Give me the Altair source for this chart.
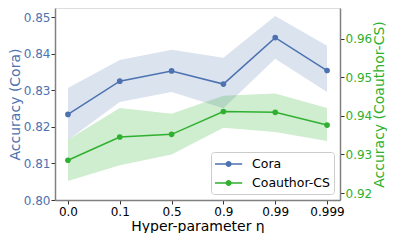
import altair as alt
import pandas as pd

eta = ["0.0", "0.1", "0.5", "0.9", "0.99", "0.999"]
cora_mean = [0.8234, 0.8325, 0.8353, 0.8317, 0.8444, 0.8354]
cora_lo = [0.8164, 0.8268, 0.8295, 0.8251, 0.8386, 0.8295]
cora_hi = [0.8306, 0.8383, 0.8411, 0.8389, 0.8503, 0.8422]
cs_mean = [0.9285, 0.9345, 0.9352, 0.9411, 0.9409, 0.9376]
cs_lo = [0.9231, 0.9272, 0.9300, 0.9369, 0.9358, 0.9335]
cs_hi = [0.9338, 0.9420, 0.9405, 0.9452, 0.9458, 0.9420]
series = ["Cora", "Coauthor-CS"]

BLUE = "#4c72b0"
GREEN = "#30b030"

rows = []
for i, e in enumerate(eta):
    rows.append({"eta": e, "series": "Cora", "mean": cora_mean[i], "lo": cora_lo[i], "hi": cora_hi[i]})
    rows.append({"eta": e, "series": "Coauthor-CS", "mean": cs_mean[i], "lo": cs_lo[i], "hi": cs_hi[i]})
df = pd.DataFrame(rows)

xenc = alt.X("eta:O", sort=eta,
             scale=alt.Scale(type="point", padding=0.25),
             axis=alt.Axis(title="Hyper-parameter η", labelAngle=0, labelColor="black",
                           titleColor="black", labelFontSize=12, titleFontSize=14,
                           titleFontWeight="normal", tickColor="#333", tickSize=4,
                           domainColor="#808080", domainWidth=1.5, labelPadding=2,
                           titlePadding=2))

legend_shape = ("M-1,-0.094H2.4V0.094H-1Z "
                "M1.075,0A0.375,0.375 0 1,1 0.325,0A0.375,0.375 0 1,1 1.075,0Z")

color = alt.Color("series:N",
                  scale=alt.Scale(domain=series, range=[BLUE, GREEN]),
                  legend=alt.Legend(title=None, orient="bottom-right", offset=6,
                                    symbolType=legend_shape,
                                    symbolSize=256, symbolStrokeWidth=0, symbolOpacity=1,
                                    labelFontSize=12.5, labelColor="black",
                                    fillColor="white", strokeColor="#cccccc", cornerRadius=3,
                                    padding=4, rowPadding=4, labelOffset=21))


def group(name, col, domain, ticks, orient, title, band_op):
    base = alt.Chart(df).transform_filter(alt.datum.series == name)
    yscale = alt.Scale(domain=domain, nice=False, zero=False)
    extra = {"titleAngle": 270, "titleBaseline": "top"} if orient == "right" else {}
    axis = alt.Axis(title=title, orient=orient, values=ticks, format=".2f",
                    labelColor=col, titleColor=col, labelFontSize=12, titleFontSize=14,
                    titleFontWeight="normal", tickColor="#333", tickSize=4, grid=False,
                    domainColor="#808080", domainWidth=1.5, labelPadding=1,
                    titlePadding=1, **extra)
    band = base.mark_area(color=col, opacity=band_op, clip=True).encode(
        x=xenc, y=alt.Y("lo:Q", scale=yscale, axis=axis), y2="hi:Q")
    line = base.mark_line(color=col, strokeWidth=1.5, clip=True).encode(
        x=xenc, y=alt.Y("mean:Q", scale=yscale, axis=axis))
    pts = base.mark_point(filled=True, size=32, opacity=1, clip=True).encode(
        x=xenc, y=alt.Y("mean:Q", scale=yscale, axis=axis), color=color)
    return alt.layer(band, line, pts)


left = group("Cora", BLUE, [0.80, 0.8525], [0.80, 0.81, 0.82, 0.83, 0.84, 0.85], "left",
             "Accuracy (Cora)", 0.2)
right = group("Coauthor-CS", GREEN, [0.9182, 0.9679], [0.92, 0.93, 0.94, 0.95, 0.96], "right",
              "Accuracy (Coauthor-CS)", 0.23)

chart = alt.layer(left, right).resolve_scale(y="independent").properties(
    width=285, height=192, padding={"left": 0, "top": 0, "right": 0, "bottom": 0}
).configure_view(stroke="#808080", strokeWidth=1.5).configure(font="DejaVu Sans")

chart.save("out.html", embed_options={"renderer": "svg", "actions": False})
